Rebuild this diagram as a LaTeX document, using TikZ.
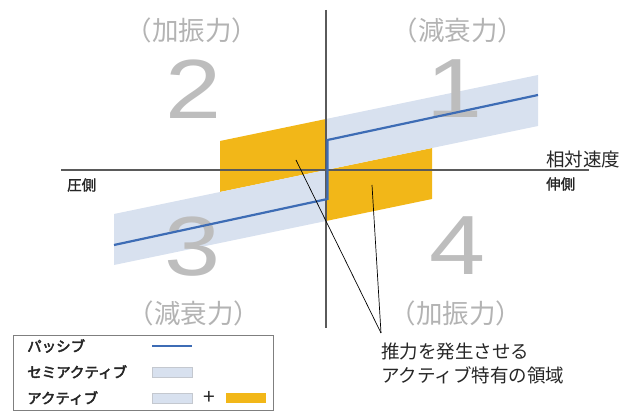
\documentclass[tikz,border=0pt]{standalone}
\usepackage{fontspec}
\newfontfamily\jp{Noto Sans CJK JP}
\newfontfamily\jpb[FakeBold=1.6]{Noto Sans CJK JP}
\newfontfamily\jpl[FakeBold=3]{Noto Sans CJK JP}
\newfontfamily\digf{Liberation Sans}
\definecolor{orng}{HTML}{F2B718}
\definecolor{bandc}{HTML}{D8E1EF}
\definecolor{bline}{HTML}{3D6CB5}
\definecolor{axisc}{HTML}{5A5A5A}
\definecolor{quadc}{HTML}{B3B3B3}
\definecolor{digc}{HTML}{BDBDBD}
\definecolor{legc}{HTML}{7F7F7F}
\definecolor{swc}{HTML}{C4C8CF}
\begin{document}
\begin{tikzpicture}[x=1pt,y=-1pt,
  quadlabel/.style={font=\jp\fontsize{26.5}{26.5}\selectfont, text=quadc, inner sep=0pt},
  digit/.style={font=\digf\fontsize{84}{84}\selectfont, text=digc, inner sep=0pt},
  axislbl/.style={font=\jpb\fontsize{14.5}{14.5}\selectfont, text=black!85, inner sep=0pt},
  legtext/.style={font=\jpl\fontsize{14.5}{14.5}\selectfont, text=black!85, inner sep=0pt, anchor=west},
  axisline/.style={draw=axisc, line width=1.3pt},
  bandfill/.style={fill=bandc, draw=none},
  orangefill/.style={fill=orng, draw=none},
  passive/.style={draw=bline, line width=2.2pt},
  leader/.style={draw=black, line width=0.7pt}]
\useasboundingbox (0,0) rectangle (632,411);
% orange active regions
\fill[orangefill] (220,141) -- (326,119) -- (326,170) -- (220,192) -- cycle;
\fill[orangefill] (326,170) -- (432,148) -- (432,199) -- (326,221) -- cycle;
% semi-active bands
\fill[bandfill] (326,119) -- (538,75) -- (538,126) -- (326,170) -- cycle;
\fill[bandfill] (326,170) -- (114,214) -- (114,265) -- (326,221) -- cycle;
% quadrant digits
\node[digit] (d1) at (455,89) {\scalebox{1.2}[1]{1}};
\node[digit] (d2) at (194,89) {\scalebox{1.2}[1]{2}};
\node[digit] (d3) at (193,247) {\scalebox{1.2}[1]{3}};
\node[digit] (d4) at (458,246) {\scalebox{1.2}[1]{4}};
% quadrant labels
\node[quadlabel] (q2) at (192,30) {（加振力）};
\node[quadlabel] (q1) at (458,30) {（減衰力）};
\node[quadlabel] (q3) at (194,313) {（減衰力）};
\node[quadlabel] (q4) at (456,313) {（加振力）};
% axes
\coordinate (xl) at (61,170);
\coordinate (xr) at (589,170);
\coordinate (yt) at (326,10);
\coordinate (yb) at (326,328);
\draw[axisline] (xl) -- (xr);
\draw[axisline] (yt) -- (yb);
% passive line
\coordinate (pa) at (114,245);
\coordinate (pb) at (327.5,199);
\coordinate (pc) at (327.5,140);
\coordinate (pd) at (538,95);
\draw[passive] (pa) -- (pb) -- (pc) -- (pd);
% axis labels
\node[axislbl, font=\jp\fontsize{18.5}{18.5}\selectfont, anchor=west] (vel) at (546,159) {相対速度};
\node[axislbl, anchor=west] (ext) at (546,184) {伸側};
\node[axislbl, anchor=west] (cmp) at (67,185) {圧側};
% annotation
\node[font=\jp\fontsize{18.5}{24}\selectfont, text=black!85, inner sep=0pt, anchor=north west, align=left] (note) at (381,343) {推力を発生させる\\アクティブ特有の領域};
\coordinate (tip) at (381,333);
\coordinate (t2) at (296,160);
\coordinate (t4) at (372,185);
\draw[leader] (tip) -- (t2);
\draw[leader] (tip) -- (t4);
% legend
\node[draw=legc, line width=1pt, minimum width=260pt, minimum height=75pt, inner sep=0pt, anchor=north west] (legend) at (13,335) {};
\node[legtext] (l1) at (27,346) {パッシブ};
\node[legtext] (l2) at (27,372) {セミアクティブ};
\node[legtext] (l3) at (27,398) {アクティブ};
\coordinate (s1a) at (152,346);
\coordinate (s1b) at (192,346);
\draw[passive, line width=2pt] (s1a) -- (s1b);
\draw[fill=bandc, draw=swc, line width=0.8pt] (152,367) rectangle (192,377);
\draw[fill=bandc, draw=swc, line width=0.8pt] (152,393) rectangle (192,403);
\node[font=\jp\fontsize{21}{21}\selectfont, text=black!85, inner sep=0pt] (plus) at (209,398) {+};
\fill[orng] (226,393) rectangle (266,403);
\end{tikzpicture}
\end{document}
